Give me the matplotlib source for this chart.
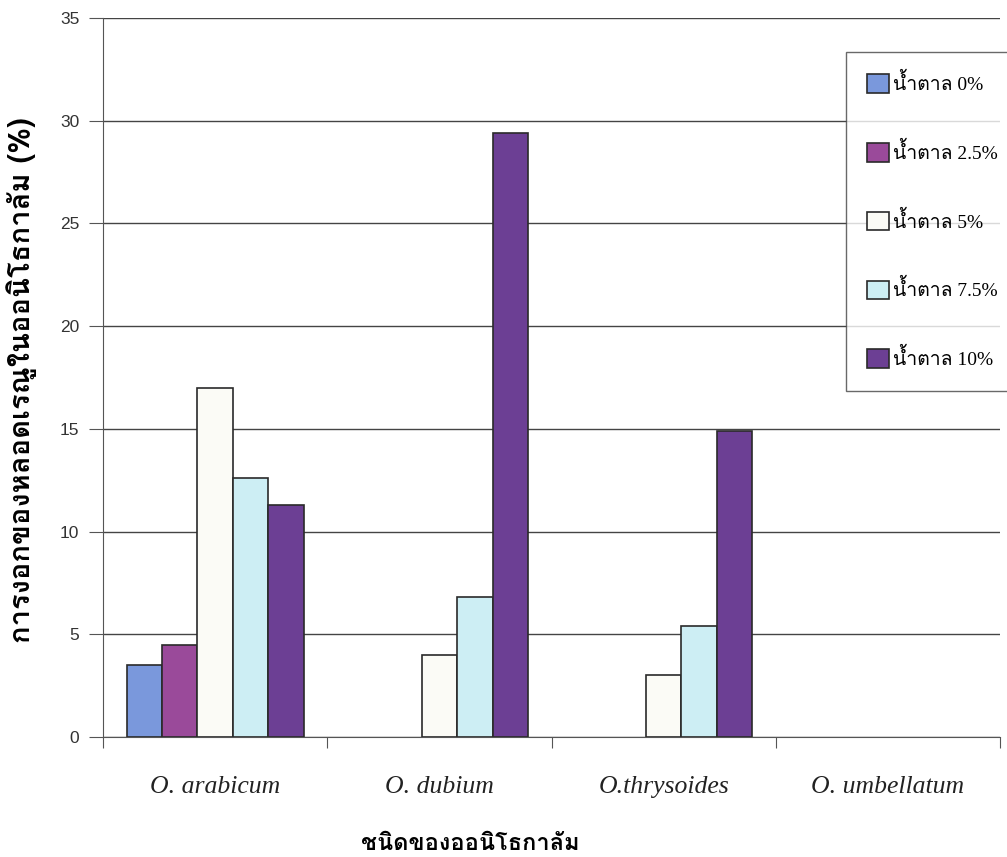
import numpy as np
import matplotlib
matplotlib.use("Agg")
import matplotlib.pyplot as plt
from matplotlib import font_manager
from matplotlib.ft2font import FT2Font
from matplotlib.patches import Patch

species = ["O. arabicum", "O. dubium", "O.thrysoides", "O. umbellatum"]
series = ["น้ำตาล 0%", "น้ำตาล 2.5%", "น้ำตาล 5%", "น้ำตาล 7.5%", "น้ำตาล 10%"]
sugar_0 = [3.5, 0, 0, 0]
sugar_25 = [4.5, 0, 0, 0]
sugar_5 = [17.0, 4.0, 3.0, 0]
sugar_75 = [12.6, 6.8, 5.4, 0]
sugar_10 = [11.3, 29.4, 14.9, 0]
colors = ["#7a98dc", "#9a4a9a", "#fbfbf6", "#cdeef4", "#6c3f94"]

# fonts that have thai glyphs
thai = []
for f in font_manager.fontManager.ttflist:
    try:
        if ord("ก") in FT2Font(f.fname).get_charmap():
            thai.append(f.name)
    except Exception:
        pass
thai = list(dict.fromkeys(thai))
fam = thai + ["DejaVu Sans"]
serif_fam = ["Liberation Serif"] + fam

fig = plt.figure(figsize=(10.07, 8.57), dpi=100)
ax = fig.add_axes([103/1007, 1-737/857, 897/1007, 719/857])

vals = [sugar_0, sugar_25, sugar_5, sugar_75, sugar_10]
x = np.arange(len(species))
w = 0.158
for i, v in enumerate(vals):
    lw = [1.2 if h > 0 else 0 for h in v]  # excel draws nothing for zero
    ax.bar(x + (i - 2) * w, v, width=w, color=colors[i], edgecolor="#2a2a2a",
           linewidth=lw, zorder=3)

ax.set_xlim(-0.5, 3.5)
ax.set_ylim(0, 35)
ax.set_yticks(range(0, 36, 5))
ax.yaxis.grid(True, color="#444444", linewidth=1.0, zorder=0)
for s in ["top", "right"]:
    ax.spines[s].set_visible(False)
ax.spines["left"].set_color("#555555")
ax.spines["bottom"].set_color("#555555")
ax.set_xticks([-0.5, 0.5, 1.5, 2.5, 3.5])
ax.set_xticklabels([])
ax.tick_params(axis="x", length=8, color="#555555", direction="out")
ax.tick_params(axis="y", length=10, color="#555555", labelsize=12.5, pad=7,
               labelcolor="#333333")
for lab in ax.get_yticklabels():
    lab.set_family("Liberation Sans")
for i, name in enumerate(species):
    ax.text(i, -2.45, name, ha="center", va="center", fontsize=18.5,
            style="italic", family="Liberation Serif", color="#222222")

fig.text(22/1007, 1-380/857, "การงอกของหลอดเรณูในออนิโธกาลัม (%)", rotation=90,
         ha="center", va="center", fontsize=21, fontweight="bold", family=fam)
fig.text(470/1007, 1-843/857, "ชนิดของออนิโธกาลัม", ha="center", va="center",
         fontsize=17, fontweight="bold", family=fam)

handles = [Patch(facecolor=colors[i], edgecolor="#2a2a2a", linewidth=1.2)
           for i in range(5)]
leg = fig.legend(handles, series, loc="upper left",
                 bbox_to_anchor=(836/1007, 1-42/857), frameon=True,
                 fancybox=False, edgecolor="#444444",
                 prop={"family": serif_fam, "size": 14},
                 labelspacing=2.45, handlelength=1.1, handleheight=1.1,
                 handletextpad=0.25, borderpad=1.1)
leg.get_frame().set_linewidth(1.0)

fig.savefig("out.png", dpi=100)
